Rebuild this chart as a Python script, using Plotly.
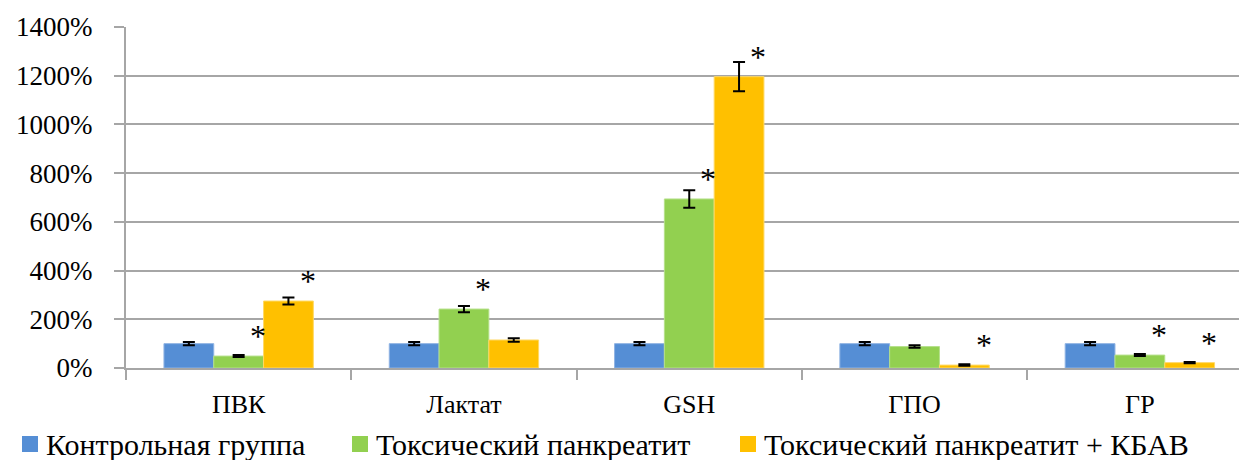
import plotly.graph_objects as go

categories = ["ПВК", "Лактат", "GSH", "ГПО", "ГР"]
series_names = ["Контрольная группа", "Токсический панкреатит", "Токсический панкреатит + КБАВ"]
control = [100, 100, 100, 100, 100]
control_err = [7, 7, 7, 7, 7]
pancreatitis = [49, 242, 694, 88, 53]
pancreatitis_err = [4, 13, 36, 5, 4]
pancreatitis_kbav = [275, 115, 1196, 12, 22]
pancreatitis_kbav_err = [14, 7, 60, 3, 3]
# significance marks (1 = "*") per series and category
signif_pancreatitis = [1, 1, 1, 0, 1]
signif_kbav = [1, 0, 1, 1, 1]
y_ticks = [0, 200, 400, 600, 800, 1000, 1200, 1400]

colors = ["#558ED5", "#92D050", "#FFC000"]
edge = ["#8FB3E3", "#B5E08A", "#FFD966"]
serif = "Liberation Serif"

W, H = 1239, 460
ML, MR, MT, MB = 126, 0, 27, 92
plot_w = W - ML - MR
plot_h = H - MT - MB


def px_to_paper_x(px):
    return (px - ML) / plot_w


def px_to_paper_y(py):
    return (H - MB - py) / plot_h


values = [control, pancreatitis, pancreatitis_kbav]
errors = [control_err, pancreatitis_err, pancreatitis_kbav_err]

fig = go.Figure()
for k in range(3):
    fig.add_trace(go.Bar(
        x=categories, y=values[k], name=series_names[k], showlegend=False,
        marker=dict(color=colors[k], line=dict(color=edge[k], width=1)),
        error_y=dict(type="data", array=errors[k], color="black", thickness=2, width=6),
    ))

# significance asterisks just above and to the right of each marked bar
bargap = 0.337
bar_w = (1 - bargap) / 3
for k, marks in [(1, signif_pancreatitis), (2, signif_kbav)]:
    for i, m in enumerate(marks):
        if not m:
            continue
        fig.add_annotation(
            x=i + (k - 1) * bar_w + 0.085, y=values[k][i], xref="x", yref="y",
            text="*", showarrow=False, yanchor="middle", yshift=20,
            font=dict(family=serif, size=32, color="black"),
        )

# legend row below the axis: coloured key squares followed by labels
key_left = [22, 352, 740]
key_size = 16
legend_mid = 444
for k in range(3):
    fig.add_shape(
        type="rect", xref="paper", yref="paper",
        x0=px_to_paper_x(key_left[k]), x1=px_to_paper_x(key_left[k] + key_size),
        y0=px_to_paper_y(legend_mid + key_size / 2), y1=px_to_paper_y(legend_mid - key_size / 2),
        fillcolor=colors[k], line=dict(width=0),
    )
    fig.add_annotation(
        x=px_to_paper_x(key_left[k] + key_size + 6), y=px_to_paper_y(legend_mid),
        xref="paper", yref="paper", xanchor="left", yanchor="middle",
        text=series_names[k], showarrow=False,
        font=dict(family=serif, size=30, color="black"),
    )

fig.update_layout(
    width=W, height=H,
    margin=dict(l=ML, r=MR, t=MT, b=MB, autoexpand=False),
    plot_bgcolor="white", paper_bgcolor="white",
    barmode="group", bargap=bargap, bargroupgap=0,
    font=dict(family=serif, color="black"),
    showlegend=False,
)
fig.update_xaxes(
    type="category", range=[-0.5, 4.44], tickson="boundaries",
    ticks="outside", ticklen=10, tickwidth=2, tickcolor="#A6A6A6",
    showline=True, linecolor="#A6A6A6", linewidth=2,
    showgrid=False, tickfont=dict(family=serif, size=26, color="black"),
    ticklabelstandoff=12,
)
fig.update_yaxes(
    range=[0, 1400], tickvals=y_ticks, ticktext=[f"{v}%" for v in y_ticks],
    ticks="outside", ticklen=10, tickwidth=2, tickcolor="#A6A6A6",
    showline=True, linecolor="#A6A6A6", linewidth=2,
    showgrid=True, gridcolor="#A6A6A6", gridwidth=2, zeroline=False,
    tickfont=dict(family=serif, size=27, color="black"),
    ticklabelstandoff=16,
)

fig.write_html("out.html")
